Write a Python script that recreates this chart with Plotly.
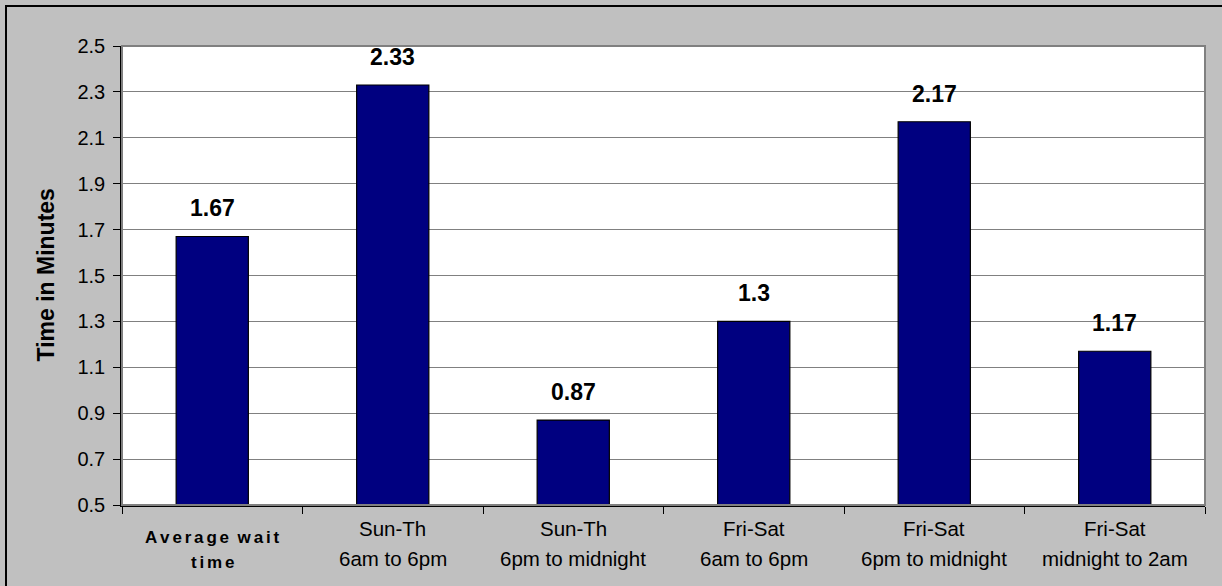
import plotly.graph_objects as go

# Wait times by period
categories = ["avg", "sunth_day", "sunth_eve", "frisat_day", "frisat_eve", "frisat_late"]
line1 = ["Average wait", "Sun-Th", "Sun-Th", "Fri-Sat", "Fri-Sat", "Fri-Sat"]
line2 = ["time", "6am to 6pm", "6pm to midnight", "6am to 6pm", "6pm to midnight", "midnight to 2am"]
wait_minutes = [1.67, 2.33, 0.87, 1.3, 2.17, 1.17]
y_ticks = [0.5, 0.7, 0.9, 1.1, 1.3, 1.5, 1.7, 1.9, 2.1, 2.3, 2.5]

FONT = "Liberation Sans, Arial, sans-serif"
BASE = 0.5
GAP = "\u2006"
WORD_GAP = "\u2002"


def spaced(s):
    # widen letter spacing for the bold summary label
    return WORD_GAP.join(GAP.join(w) for w in s.split(" "))


fig = go.Figure(
    go.Bar(
        x=categories,
        y=[v - BASE for v in wait_minutes],
        base=BASE,
        marker=dict(color="#000080", line=dict(color="#000000", width=1.2)),
        width=0.4,
        hoverinfo="skip",
    )
)

annotations = []
for cat, v in zip(categories, wait_minutes):
    annotations.append(dict(
        x=cat, y=v, xref="x", yref="y", text=f"<b>{v:g}</b>", showarrow=False,
        yanchor="middle", yshift=28, font=dict(family=FONT, size=23, color="#000000"),
    ))

for i, (cat, a, b) in enumerate(zip(categories, line1, line2)):
    if i == 0:
        t1 = f"<b>{spaced(a)}</b>"
        t2 = f"<b>{spaced(b)}</b>"
        f = dict(family=FONT, size=17, color="#000000")
        s1, s2 = -32, -57
    else:
        t1, t2 = a, b
        f = dict(family=FONT, size=20.5, color="#000000")
        s1, s2 = -23, -53
    annotations.append(dict(x=cat, y=0, xref="x", yref="paper", text=t1, showarrow=False,
                            yanchor="middle", yshift=s1, font=f))
    annotations.append(dict(x=cat, y=0, xref="x", yref="paper", text=t2, showarrow=False,
                            yanchor="middle", yshift=s2, font=f))

# y-axis title
annotations.append(dict(
    x=0, y=0.5, xref="paper", yref="paper", text="<b>Time in Minutes</b>", showarrow=False,
    textangle=-90, xanchor="center", yanchor="middle", xshift=-77,
    font=dict(family=FONT, size=23, color="#000000"),
))

fig.update_layout(
    width=1222,
    height=586,
    margin=dict(l=122, r=17, t=46, b=81),
    paper_bgcolor="#C0C0C0",
    plot_bgcolor="#FFFFFF",
    showlegend=False,
    font=dict(family=FONT, size=20, color="#000000"),
    annotations=annotations,
    shapes=[
        # outer frame (top and left edges visible)
        dict(type="rect", xref="paper", yref="paper",
             x0=-116 / 1083, x1=1.1, y0=-0.3, y1=1 + 40 / 459,
             line=dict(color="#000000", width=2), layer="below"),
        # gray frame of the plot area
        dict(type="rect", xref="paper", yref="paper", x0=0, x1=1, y0=0, y1=1,
             line=dict(color="#808080", width=2), layer="above"),
    ],
    xaxis=dict(
        type="category",
        tickson="boundaries",
        ticks="outside",
        ticklen=7,
        tickcolor="#000000",
        showticklabels=False,
        showline=True,
        linecolor="#000000",
        linewidth=1.5,
        showgrid=False,
        range=[-0.5, 5.5],
    ),
    yaxis=dict(
        range=[0.5, 2.5],
        tickvals=y_ticks,
        ticktext=[f"{t:.1f}" for t in y_ticks],
        ticks="outside",
        ticklen=7,
        tickcolor="#000000",
        ticklabelstandoff=4,
        tickfont=dict(family=FONT, size=20, color="#000000"),
        showline=True,
        linecolor="#000000",
        linewidth=1.5,
        showgrid=True,
        gridcolor="#808080",
        gridwidth=1,
        zeroline=False,
    ),
)

fig.write_html("out.html")
